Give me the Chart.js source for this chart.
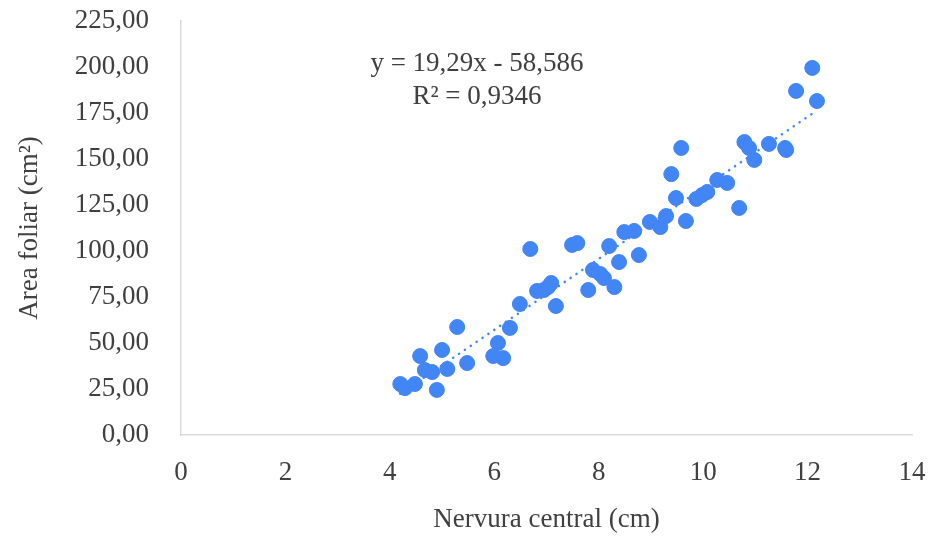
<!DOCTYPE html>
<html>
<head>
<meta charset="utf-8">
<script src="https://cdn.jsdelivr.net/npm/chart.js@4.4.1/dist/chart.umd.min.js"></script>
<style>
  html, body { margin: 0; padding: 0; background: #fff; }
  #wrap { width: 930px; height: 536px; }
</style>
</head>
<body>
<div id="wrap"><canvas id="chart" width="930" height="536"></canvas></div>
<script>
// -----------------------------
// Data
// -----------------------------
const nervura = [
    4.20, 4.29, 4.48, 4.58, 4.67, 4.81, 4.90, 5.00, 5.10, 5.29,
    5.48, 5.98, 6.07, 6.17, 6.30, 6.49, 6.69, 6.82, 6.95, 7.03,
    7.09, 7.18, 7.49, 7.59, 7.80, 7.89, 8.03, 8.10, 8.20, 8.30,
    8.39, 8.49, 8.68, 8.77, 8.98, 9.18, 9.29, 9.39, 9.48, 9.58,
    9.67, 9.87, 9.98, 10.08, 10.27, 10.46, 10.69, 10.79, 10.88, 10.98,
    11.26, 11.57, 11.59, 11.78, 12.09, 12.18
];
const areaFoliar = [
    27.7, 25.5, 27.7, 42.9, 35.3, 34.2, 24.5, 46.2, 35.9, 58.7,
    39.1, 42.9, 50.0, 41.8, 58.2, 71.2, 101.1, 78.3, 78.8, 80.4,
    82.6, 70.1, 103.3, 104.3, 78.8, 89.7, 87.5, 85.3, 102.7, 80.4,
    94.0, 110.3, 110.9, 97.8, 115.8, 113.0, 119.0, 141.8, 128.8, 156.0,
    116.3, 128.3, 130.4, 132.1, 138.6, 137.0, 123.4, 159.2, 156.0, 149.5,
    158.2, 156.0, 154.9, 187.0, 199.5, 181.5
];
const xTicks = [0, 2, 4, 6, 8, 10, 12, 14];
const yTicks = [0, 25, 50, 75, 100, 125, 150, 175, 200, 225];

// trendline from the reference equation
const slope = 19.29;
const intercept = -58.586;
const rSquared = 0.9346;

const blue = '#4285f4';
const textColor = '#404040';
const axisColor = '#d9d9d9';
const fontFamily = '"Liberation Serif", "DejaVu Serif", serif';
const fontSize = 27;

const fmt = (v, d) => v.toFixed(d).replace('.', ',');

const points = nervura.map((x, i) => ({x: x, y: areaFoliar[i]}));
const xMin = Math.min(...nervura);
const xMax = Math.max(...nervura);
const trend = [
    {x: xMin, y: slope * xMin + intercept},
    {x: xMax, y: slope * xMax + intercept}
];

// -----------------------------
// Equation text plugin
// -----------------------------
const equationLabel = {
    id: 'equationLabel',
    afterDraw(chart) {
        const ctx = chart.ctx;
        ctx.save();
        ctx.fillStyle = textColor;
        ctx.font = fontSize + 'px ' + fontFamily;
        ctx.textAlign = 'center';
        ctx.textBaseline = 'middle';
        ctx.fillText('y = ' + fmt(slope, 2) + 'x - ' + fmt(-intercept, 3), 477, 64);
        ctx.fillText('R\u00b2 = ' + fmt(rSquared, 4), 477, 97);
        ctx.restore();
    }
};

new Chart(document.getElementById('chart'), {
    type: 'scatter',
    data: {
        datasets: [
            {
                label: 'Área foliar',
                data: points,
                backgroundColor: blue,
                borderColor: blue,
                pointRadius: 7.5,
                pointHoverRadius: 7.5,
                order: 1
            },
            {
                label: 'Tendência',
                type: 'line',
                data: trend,
                borderColor: blue,
                borderWidth: 2.5,
                borderDash: [0.1, 7],
                borderCapStyle: 'round',
                pointRadius: 0,
                fill: false,
                order: 2
            }
        ]
    },
    options: {
        responsive: false,
        animation: false,
        layout: {padding: {top: 21, right: 18, left: 0, bottom: 0}},
        plugins: {
            legend: {display: false},
            tooltip: {enabled: false}
        },
        scales: {
            x: {
                type: 'linear',
                min: xTicks[0],
                max: xTicks[xTicks.length - 1],
                afterBuildTicks: s => { s.ticks = xTicks.map(v => ({value: v})); },
                ticks: {
                    color: textColor,
                    font: {family: fontFamily, size: fontSize},
                    padding: 14,
                    callback: v => String(v)
                },
                grid: {display: false},
                border: {color: axisColor, width: 1.5},
                title: {
                    display: true,
                    text: 'Nervura central (cm)',
                    color: textColor,
                    font: {family: fontFamily, size: fontSize},
                    padding: {top: 4, bottom: 0}
                },
                afterFit: s => {
                    s.height = 101;
                    s.paddingLeft = 0;
                    s.paddingRight = 0;
                }
            },
            y: {
                type: 'linear',
                min: yTicks[0],
                max: yTicks[yTicks.length - 1],
                afterBuildTicks: s => { s.ticks = yTicks.map(v => ({value: v})); },
                ticks: {
                    color: textColor,
                    font: {family: fontFamily, size: fontSize},
                    padding: 24,
                    callback: v => fmt(v, 2)
                },
                grid: {display: false},
                border: {color: axisColor, width: 1.5},
                title: {
                    display: true,
                    text: 'Area foliar (cm\u00b2)',
                    color: textColor,
                    font: {family: fontFamily, size: fontSize},
                    padding: {top: 14, bottom: 0}
                },
                afterFit: s => {
                    s.width = 181;
                    s.paddingTop = 0;
                    s.paddingBottom = 0;
                }
            }
        }
    },
    plugins: [equationLabel]
});
</script>
</body>
</html>
